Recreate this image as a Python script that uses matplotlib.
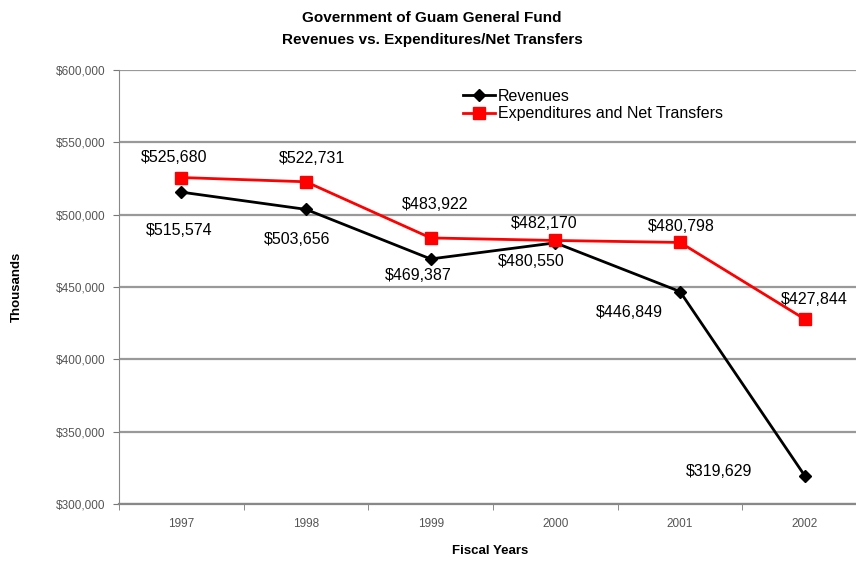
import matplotlib.pyplot as plt
from matplotlib.ticker import FuncFormatter, FixedLocator

years = ['1997', '1998', '1999', '2000', '2001', '2002']
revenues = [515574, 503656, 469387, 480550, 446849, 319629]
expenditures = [525680, 522731, 483922, 482170, 480798, 427844]

# label offsets in pixels (dx, dy) relative to each point
rev_offsets = [(-2, -38), (-9, -30), (-12, -17), (-24, -19), (-51, -21), (-86, 4)]
exp_offsets = [(-7, 20), (6, 23), (4, 33), (-11, 17), (1, 16), (10, 20)]

plt.rcParams['font.family'] = ['Liberation Sans', 'DejaVu Sans']

W, H = 856, 561
fig = plt.figure(figsize=(W / 100, H / 100), dpi=100)
ax = fig.add_axes([119 / W, (H - 504) / H, (867 - 119) / W, (504 - 70) / H])

x = list(range(len(years)))
ax.plot(x, revenues, color='black', lw=2, marker='D', markersize=6, label='Revenues', zorder=3)
ax.plot(x, expenditures, color='#ff0000', lw=2, marker='s', markersize=8,
        label='Expenditures and Net Transfers', zorder=3)

for i in x:
    ax.annotate(f'${revenues[i]:,}', (i, revenues[i]), xytext=rev_offsets[i],
                textcoords='offset pixels', ha='center', va='center', fontsize=11.5)
    ax.annotate(f'${expenditures[i]:,}', (i, expenditures[i]), xytext=exp_offsets[i],
                textcoords='offset pixels', ha='center', va='center', fontsize=11.5)

ax.set_xlim(-0.5, 5.5)
ax.set_ylim(300000, 600000)
ax.set_yticks(range(300000, 600001, 50000))
ax.yaxis.set_major_formatter(FuncFormatter(lambda v, p: f'${int(v):,}'))
ax.grid(axis='y', color='#999999', lw=1.6)
ax.set_axisbelow(True)

ax.set_xticks(x)
ax.set_xticklabels(years)
ax.xaxis.set_minor_locator(FixedLocator([i - 0.5 for i in range(7)]))
ax.tick_params(axis='x', which='major', length=0, pad=10, labelsize=8.5, labelcolor='#555555')
ax.tick_params(axis='x', which='minor', length=4, color='#777777', direction='out')
ax.tick_params(axis='y', length=4, color='#777777', labelsize=8.5, labelcolor='#555555', pad=6)

for side in ['top', 'right']:
    ax.spines[side].set_visible(False)
ax.spines['left'].set_color('#888888')
ax.spines['bottom'].set_color('#888888')
ax.spines['bottom'].set_linewidth(1.6)

fig.text(490 / W, 1 - 551 / H, 'Fiscal Years', ha='center', va='center',
         fontsize=9.5, fontweight='bold')
fig.text(17 / W, 1 - 287 / H, 'Thousands', ha='center', va='center', rotation=90,
         fontsize=9.5, fontweight='bold')

fig.text(432 / W, 1 - 18 / H, 'Government of Guam General Fund', ha='center', va='center',
         fontsize=11, fontweight='bold')
fig.text(432 / W, 1 - 40 / H, 'Revenues vs. Expenditures/Net Transfers', ha='center', va='center',
         fontsize=11, fontweight='bold')

ax.legend(loc='upper left', bbox_to_anchor=(455 / W, 1 - 81 / H), bbox_transform=fig.transFigure,
          frameon=False, fontsize=11.5, handlelength=2, handletextpad=0.2,
          labelspacing=0.15, borderpad=0)

fig.savefig('out.png', dpi=100)
